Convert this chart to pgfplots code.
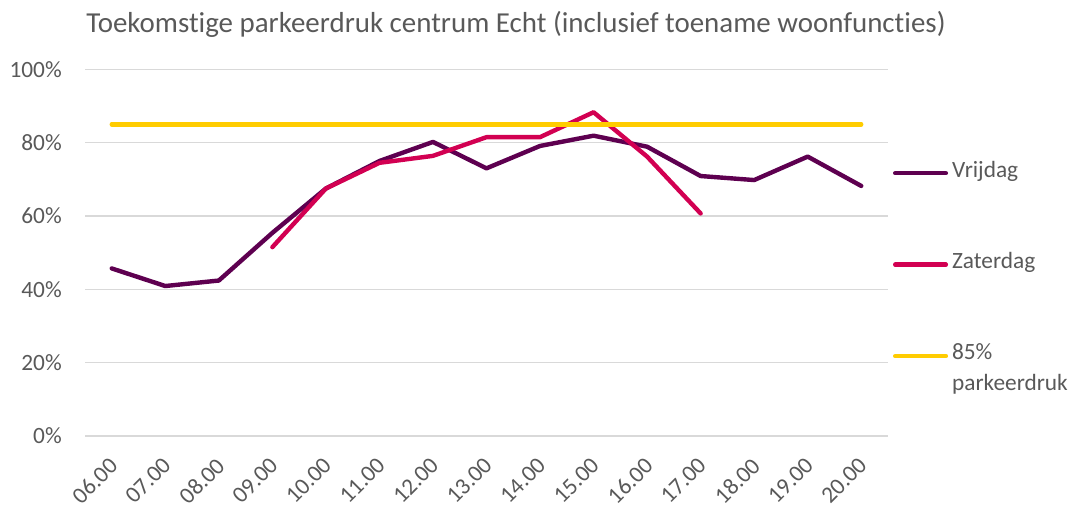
\documentclass[border=0pt]{standalone}
\usepackage{fontspec}
\setmainfont{Carlito}[Ligatures=NoCommon]
\usepackage{pgfplots}
\pgfplotsset{compat=1.18}
\definecolor{vrij}{RGB}{94,0,80}
\definecolor{zat}{RGB}{210,0,82}
\definecolor{geel}{RGB}{255,204,0}
\definecolor{txt}{RGB}{89,89,89}
\definecolor{grd}{RGB}{217,217,217}
\newcommand{\cfont}{\fontsize{17.5}{21}\selectfont}
\begin{document}
\begin{tikzpicture}
\path[use as bounding box] (0,0) rectangle (813pt,380.25pt);
\node[anchor=base west, inner sep=0pt, text=txt, font=\fontsize{21.7}{26}\selectfont] at (64.5pt,355.5pt) {Toekomstige parkeerdruk centrum Echt (inclusief toename woonfuncties)};
\begin{axis}[
  at={(63.75pt,53.25pt)}, anchor=south west,
  scale only axis, width=602.25pt, height=275pt,
  xmin=-0.5, xmax=14.5, ymin=0, ymax=100,
  xtick={0,...,14},
  xticklabels={06.00,07.00,08.00,09.00,10.00,11.00,12.00,13.00,14.00,15.00,16.00,17.00,18.00,19.00,20.00},
  ytick={0,20,40,60,80,100},
  yticklabels={0\%,20\%,40\%,60\%,80\%,100\%},
  /pgf/number format/assume math mode=true,
  ymajorgrids, grid style={grd, line width=1.1pt},
  axis line style={draw=none}, tick style={draw=none},
  ticklabel style={font=\cfont, text=txt},
  yticklabel style={anchor=east, inner sep=0pt, xshift=-17.25pt},
  xticklabel style={xshift=-3pt, yshift=-15pt, rotate=45, anchor=north east, inner sep=0pt},
  every axis plot/.append style={line width=3.3pt, line join=round, line cap=round},
  legend image code/.code={\draw[#1] (0pt,0pt) -- (38pt,0pt);},
  legend cell align=left,
  legend style={at={(1,0.7581)}, anchor=north west, xshift=3.75pt, draw=none, fill=none,
    inner sep=0pt, outer sep=0pt, row sep=0pt, column sep=3pt, font=\cfont, text=txt,
    nodes={inner sep=0pt, text height=14.3pt, text depth=8.55pt}},
]
\addplot[vrij] coordinates {(0,45.7)(1,40.9)(2,42.4)(3,55.4)(4,67.5)(5,75.0)(6,80.2)(7,73.0)(8,79.1)(9,81.9)(10,78.9)(11,70.9)(12,69.8)(13,76.2)(14,68.2)};
\addlegendentry{Vrijdag}
\addlegendimage{empty legend}\addlegendentry{}
\addlegendimage{empty legend}\addlegendentry{}
\addplot[zat] coordinates {(3,51.5)(4,67.5)(5,74.5)(6,76.4)(7,81.5)(8,81.5)(9,88.3)(10,76.2)(11,60.7)};
\addlegendentry{Zaterdag}
\addlegendimage{empty legend}\addlegendentry{}
\addlegendimage{empty legend}\addlegendentry{}
\addplot[geel] coordinates {(0,85)(14,85)};
\addlegendentry{85\%}
\addlegendimage{empty legend}\addlegendentry{parkeerdruk}
\end{axis}
\end{tikzpicture}
\end{document}
